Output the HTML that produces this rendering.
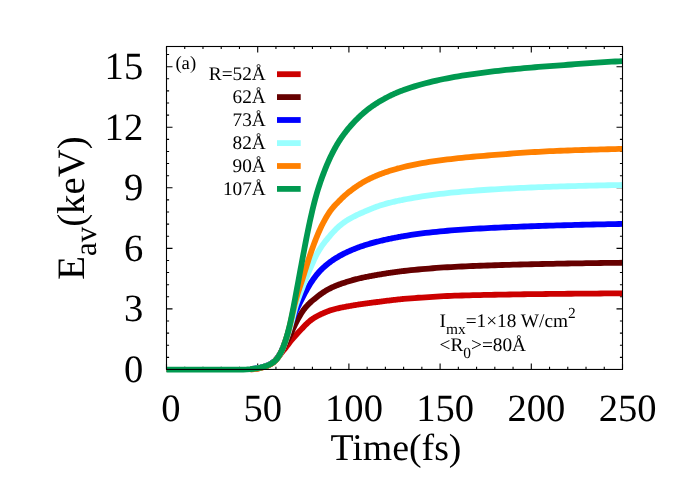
<!DOCTYPE html>
<html><head><meta charset="utf-8"><title>E_av vs Time</title>
<style>
html,body{margin:0;padding:0;background:#ffffff;}
body{width:692px;height:485px;overflow:hidden;position:relative;font-family:"Liberation Serif",serif;}
svg{will-change:transform;}
svg text{text-rendering:geometricPrecision;}
</style></head><body>
<svg width="692" height="485" viewBox="0 0 692 485" style="position:absolute;left:0;top:0">
<rect x="0" y="0" width="692" height="485" fill="#ffffff"/>
<path stroke="#000" stroke-width="1.1" fill="none" d="M166.50,369.45 v-6.00 M166.50,46.50 v6.00 M184.74,369.45 v-2.60 M184.74,46.50 v2.60 M202.98,369.45 v-2.60 M202.98,46.50 v2.60 M221.22,369.45 v-2.60 M221.22,46.50 v2.60 M239.46,369.45 v-2.60 M239.46,46.50 v2.60 M257.70,369.45 v-6.00 M257.70,46.50 v6.00 M275.94,369.45 v-2.60 M275.94,46.50 v2.60 M294.18,369.45 v-2.60 M294.18,46.50 v2.60 M312.42,369.45 v-2.60 M312.42,46.50 v2.60 M330.66,369.45 v-2.60 M330.66,46.50 v2.60 M348.90,369.45 v-6.00 M348.90,46.50 v6.00 M367.14,369.45 v-2.60 M367.14,46.50 v2.60 M385.38,369.45 v-2.60 M385.38,46.50 v2.60 M403.62,369.45 v-2.60 M403.62,46.50 v2.60 M421.86,369.45 v-2.60 M421.86,46.50 v2.60 M440.10,369.45 v-6.00 M440.10,46.50 v6.00 M458.34,369.45 v-2.60 M458.34,46.50 v2.60 M476.58,369.45 v-2.60 M476.58,46.50 v2.60 M494.82,369.45 v-2.60 M494.82,46.50 v2.60 M513.06,369.45 v-2.60 M513.06,46.50 v2.60 M531.30,369.45 v-6.00 M531.30,46.50 v6.00 M549.54,369.45 v-2.60 M549.54,46.50 v2.60 M567.78,369.45 v-2.60 M567.78,46.50 v2.60 M586.02,369.45 v-2.60 M586.02,46.50 v2.60 M604.26,369.45 v-2.60 M604.26,46.50 v2.60 M622.50,369.45 v-6.00 M622.50,46.50 v6.00 M166.50,369.45 h6.00 M622.50,369.45 h-6.00 M166.50,357.34 h2.60 M622.50,357.34 h-2.60 M166.50,345.23 h2.60 M622.50,345.23 h-2.60 M166.50,333.12 h2.60 M622.50,333.12 h-2.60 M166.50,321.01 h2.60 M622.50,321.01 h-2.60 M166.50,308.90 h6.00 M622.50,308.90 h-6.00 M166.50,296.79 h2.60 M622.50,296.79 h-2.60 M166.50,284.68 h2.60 M622.50,284.68 h-2.60 M166.50,272.56 h2.60 M622.50,272.56 h-2.60 M166.50,260.45 h2.60 M622.50,260.45 h-2.60 M166.50,248.34 h6.00 M622.50,248.34 h-6.00 M166.50,236.23 h2.60 M622.50,236.23 h-2.60 M166.50,224.12 h2.60 M622.50,224.12 h-2.60 M166.50,212.01 h2.60 M622.50,212.01 h-2.60 M166.50,199.90 h2.60 M622.50,199.90 h-2.60 M166.50,187.79 h6.00 M622.50,187.79 h-6.00 M166.50,175.68 h2.60 M622.50,175.68 h-2.60 M166.50,163.57 h2.60 M622.50,163.57 h-2.60 M166.50,151.46 h2.60 M622.50,151.46 h-2.60 M166.50,139.35 h2.60 M622.50,139.35 h-2.60 M166.50,127.24 h6.00 M622.50,127.24 h-6.00 M166.50,115.13 h2.60 M622.50,115.13 h-2.60 M166.50,103.02 h2.60 M622.50,103.02 h-2.60 M166.50,90.91 h2.60 M622.50,90.91 h-2.60 M166.50,78.80 h2.60 M622.50,78.80 h-2.60 M166.50,66.68 h6.00 M622.50,66.68 h-6.00 M166.50,54.57 h2.60 M622.50,54.57 h-2.60"/>
<g fill="none" stroke-width="5.8" stroke-linejoin="round" stroke-linecap="butt">
<path stroke="#cc0000" stroke-width="4.2" d="M166.50,369.69 L170.15,369.69 L173.80,369.69 L177.44,369.69 L181.09,369.69 L184.74,369.69 L188.39,369.69 L192.04,369.69 L195.68,369.69 L199.33,369.69 L202.98,369.69 L206.63,369.69 L210.28,369.69 L213.92,369.69 L217.57,369.69 L221.22,369.69 L224.87,369.69 L228.52,369.69 L232.16,369.68 L235.81,369.67 L239.46,369.66 L243.11,369.63 L246.76,369.48 L250.40,369.32"/>
<path stroke="#cc0000" d="M250.40,369.32 L254.05,369.08 L257.70,368.53 L258.61,368.36 L259.52,368.17 L260.44,367.97 L261.35,367.75 L262.26,367.51 L263.17,367.25 L264.08,366.96 L265.00,366.66 L265.91,366.33 L266.82,365.99 L267.73,365.61 L268.64,365.19 L269.56,364.73 L270.47,364.24 L271.38,363.70 L272.29,363.10 L273.20,362.43 L274.12,361.67 L275.03,360.82 L275.94,359.90 L276.85,358.88 L277.76,357.77 L278.68,356.60 L279.59,355.40 L280.50,354.20 L281.41,353.02 L282.32,351.86 L283.24,350.75 L284.15,349.65 L285.06,348.55 L285.97,347.38 L286.88,346.14 L287.80,344.91 L288.71,343.68 L289.62,342.47 L290.53,341.28 L291.44,340.14 L292.36,339.05 L293.27,338.00 L294.18,336.97 L295.09,335.95 L296.00,334.94 L296.92,333.95 L297.83,333.00 L298.74,332.05 L299.65,331.10 L300.56,330.12 L301.48,329.14 L302.39,328.16 L303.30,327.20 L304.21,326.25 L305.12,325.32 L306.04,324.42 L306.95,323.55 L307.86,322.70 L308.77,321.89 L309.68,321.11 L310.60,320.37 L311.51,319.67 L312.42,319.02 L313.33,318.40 L314.24,317.81 L315.16,317.26 L316.07,316.73 L316.98,316.23 L317.89,315.75 L318.80,315.28 L319.72,314.83 L320.63,314.39 L321.54,313.95 L322.45,313.53 L323.36,313.12 L324.28,312.72 L325.19,312.34 L326.10,311.96 L327.01,311.61 L327.92,311.26 L328.84,310.93 L329.75,310.61 L330.66,310.30 L331.57,310.01 L332.48,309.73 L333.40,309.47 L334.31,309.21 L335.22,308.97 L336.13,308.74 L337.04,308.51 L337.96,308.30 L338.87,308.09 L339.78,307.89 L340.69,307.69 L341.60,307.51 L342.52,307.32 L343.43,307.15 L344.34,306.97 L345.25,306.80 L346.16,306.64 L347.08,306.47 L347.99,306.31 L348.90,306.15 L349.81,305.98 L350.72,305.82 L351.64,305.66 L352.55,305.50 L353.46,305.34 L354.37,305.18 L355.28,305.03 L356.20,304.89 L357.11,304.74 L358.02,304.60 L358.93,304.46 L359.84,304.33 L360.76,304.19 L361.67,304.06 L362.58,303.93 L363.49,303.81 L364.40,303.68 L365.32,303.56 L366.23,303.44 L367.14,303.32 L368.05,303.20 L368.96,303.09 L369.88,302.97 L370.79,302.85 L371.70,302.73 L372.61,302.61 L373.52,302.49 L374.44,302.37 L375.35,302.25 L376.26,302.12 L377.17,302.00 L378.08,301.88 L379.00,301.76 L379.91,301.64 L380.82,301.52 L381.73,301.40 L382.64,301.29 L383.56,301.17 L384.47,301.06 L385.38,300.95 L386.29,300.84 L387.20,300.73 L388.12,300.63 L389.03,300.52 L389.94,300.41 L390.85,300.31 L391.76,300.20 L392.68,300.09 L393.59,299.99 L394.50,299.88 L395.41,299.78 L396.32,299.67 L397.24,299.57 L398.15,299.47 L399.06,299.37 L399.97,299.28 L400.88,299.18 L401.80,299.09 L402.71,299.01 L403.62,298.92 L407.27,298.60 L410.92,298.30 L414.56,298.03 L418.21,297.76 L421.86,297.52 L425.51,297.27 L429.16,297.04 L432.80,296.81 L436.45,296.58 L440.10,296.37 L443.75,296.18 L447.40,295.99 L451.04,295.83 L454.69,295.69 L458.34,295.58 L461.99,295.48 L465.64,295.38 L469.28,295.29 L472.93,295.20 L476.58,295.11 L480.23,295.03 L483.88,294.96 L487.52,294.88 L491.17,294.81 L494.82,294.74 L498.47,294.67 L502.12,294.61 L505.76,294.55 L509.41,294.49 L513.06,294.43 L516.71,294.38 L520.36,294.33 L524.00,294.27 L527.65,294.22 L531.30,294.18 L534.95,294.13 L538.60,294.09 L542.24,294.04 L545.89,294.00 L549.54,293.96 L553.19,293.92 L556.84,293.88 L560.48,293.84 L564.13,293.81 L567.78,293.77 L571.43,293.74 L575.08,293.71 L578.72,293.67 L582.37,293.64 L586.02,293.61 L589.67,293.58 L593.32,293.55 L596.96,293.53 L600.61,293.50 L604.26,293.47 L607.91,293.45 L611.56,293.42 L615.20,293.40 L618.85,293.37 L622.50,293.35"/>
<path stroke="#660000" stroke-width="4.2" d="M166.50,369.69 L170.15,369.69 L173.80,369.69 L177.44,369.69 L181.09,369.69 L184.74,369.69 L188.39,369.69 L192.04,369.69 L195.68,369.69 L199.33,369.69 L202.98,369.69 L206.63,369.69 L210.28,369.69 L213.92,369.69 L217.57,369.69 L221.22,369.69 L224.87,369.69 L228.52,369.69 L232.16,369.68 L235.81,369.67 L239.46,369.66 L243.11,369.63 L246.76,369.46 L250.40,369.15"/>
<path stroke="#660000" d="M250.40,369.15 L254.05,368.75 L257.70,368.19 L258.61,368.02 L259.52,367.83 L260.44,367.63 L261.35,367.40 L262.26,367.16 L263.17,366.91 L264.08,366.63 L265.00,366.35 L265.91,366.04 L266.82,365.72 L267.73,365.36 L268.64,364.96 L269.56,364.52 L270.47,364.05 L271.38,363.53 L272.29,362.97 L273.20,362.34 L274.12,361.63 L275.03,360.82 L275.94,359.90 L276.85,358.86 L277.76,357.66 L278.68,356.35 L279.59,354.92 L280.50,353.41 L281.41,351.81 L282.32,350.13 L283.24,348.41 L284.15,346.65 L285.06,344.89 L285.97,343.12 L286.88,341.36 L287.80,339.60 L288.71,337.83 L289.62,336.02 L290.53,334.13 L291.44,332.18 L292.36,330.23 L293.27,328.31 L294.18,326.41 L295.09,324.55 L296.00,322.73 L296.92,320.96 L297.83,319.24 L298.74,317.57 L299.65,315.98 L300.56,314.45 L301.48,313.00 L302.39,311.63 L303.30,310.35 L304.21,309.13 L305.12,307.98 L306.04,306.90 L306.95,305.87 L307.86,304.90 L308.77,303.98 L309.68,303.10 L310.60,302.26 L311.51,301.45 L312.42,300.67 L313.33,299.90 L314.24,299.16 L315.16,298.42 L316.07,297.70 L316.98,296.96 L317.89,296.23 L318.80,295.52 L319.72,294.83 L320.63,294.17 L321.54,293.52 L322.45,292.89 L323.36,292.29 L324.28,291.70 L325.19,291.13 L326.10,290.58 L327.01,290.05 L327.92,289.53 L328.84,289.04 L329.75,288.56 L330.66,288.09 L331.57,287.64 L332.48,287.21 L333.40,286.80 L334.31,286.40 L335.22,286.01 L336.13,285.63 L337.04,285.27 L337.96,284.92 L338.87,284.57 L339.78,284.24 L340.69,283.91 L341.60,283.60 L342.52,283.28 L343.43,282.98 L344.34,282.68 L345.25,282.38 L346.16,282.09 L347.08,281.81 L347.99,281.52 L348.90,281.24 L349.81,280.96 L350.72,280.69 L351.64,280.42 L352.55,280.16 L353.46,279.91 L354.37,279.66 L355.28,279.42 L356.20,279.18 L357.11,278.95 L358.02,278.73 L358.93,278.51 L359.84,278.29 L360.76,278.08 L361.67,277.87 L362.58,277.67 L363.49,277.47 L364.40,277.28 L365.32,277.09 L366.23,276.90 L367.14,276.72 L368.05,276.54 L368.96,276.37 L369.88,276.20 L370.79,276.03 L371.70,275.86 L372.61,275.70 L373.52,275.53 L374.44,275.37 L375.35,275.21 L376.26,275.05 L377.17,274.89 L378.08,274.73 L379.00,274.58 L379.91,274.42 L380.82,274.27 L381.73,274.12 L382.64,273.97 L383.56,273.82 L384.47,273.67 L385.38,273.52 L386.29,273.38 L387.20,273.24 L388.12,273.09 L389.03,272.95 L389.94,272.82 L390.85,272.68 L391.76,272.55 L392.68,272.41 L393.59,272.28 L394.50,272.16 L395.41,272.03 L396.32,271.91 L397.24,271.78 L398.15,271.66 L399.06,271.55 L399.97,271.43 L400.88,271.32 L401.80,271.21 L402.71,271.10 L403.62,271.00 L407.27,270.59 L410.92,270.21 L414.56,269.84 L418.21,269.49 L421.86,269.15 L425.51,268.83 L429.16,268.53 L432.80,268.24 L436.45,267.97 L440.10,267.71 L443.75,267.47 L447.40,267.24 L451.04,267.03 L454.69,266.83 L458.34,266.65 L461.99,266.49 L465.64,266.32 L469.28,266.17 L472.93,266.02 L476.58,265.88 L480.23,265.74 L483.88,265.61 L487.52,265.48 L491.17,265.36 L494.82,265.24 L498.47,265.13 L502.12,265.01 L505.76,264.91 L509.41,264.80 L513.06,264.70 L516.71,264.61 L520.36,264.51 L524.00,264.42 L527.65,264.34 L531.30,264.25 L534.95,264.17 L538.60,264.09 L542.24,264.01 L545.89,263.93 L549.54,263.86 L553.19,263.79 L556.84,263.72 L560.48,263.65 L564.13,263.59 L567.78,263.52 L571.43,263.46 L575.08,263.40 L578.72,263.34 L582.37,263.28 L586.02,263.22 L589.67,263.17 L593.32,263.12 L596.96,263.06 L600.61,263.01 L604.26,262.96 L607.91,262.91 L611.56,262.87 L615.20,262.82 L618.85,262.78 L622.50,262.73"/>
<path stroke="#0000ff" stroke-width="4.2" d="M166.50,369.69 L170.15,369.69 L173.80,369.69 L177.44,369.69 L181.09,369.69 L184.74,369.69 L188.39,369.69 L192.04,369.69 L195.68,369.69 L199.33,369.69 L202.98,369.69 L206.63,369.69 L210.28,369.69 L213.92,369.69 L217.57,369.69 L221.22,369.69 L224.87,369.69 L228.52,369.68 L232.16,369.68 L235.81,369.67 L239.46,369.66 L243.11,369.63 L246.76,369.43 L250.40,369.12"/>
<path stroke="#0000ff" d="M250.40,369.12 L254.05,368.70 L257.70,368.13 L258.61,367.95 L259.52,367.75 L260.44,367.54 L261.35,367.31 L262.26,367.06 L263.17,366.79 L264.08,366.52 L265.00,366.22 L265.91,365.91 L266.82,365.57 L267.73,365.19 L268.64,364.77 L269.56,364.32 L270.47,363.83 L271.38,363.30 L272.29,362.74 L273.20,362.12 L274.12,361.42 L275.03,360.62 L275.94,359.73 L276.85,358.67 L277.76,357.45 L278.68,356.08 L279.59,354.55 L280.50,352.87 L281.41,351.01 L282.32,348.98 L283.24,346.80 L284.15,344.48 L285.06,342.03 L285.97,339.48 L286.88,336.82 L287.80,333.95 L288.71,330.85 L289.62,327.77 L290.53,325.01 L291.44,322.52 L292.36,320.07 L293.27,317.62 L294.18,315.14 L295.09,312.82 L296.00,310.80 L296.92,308.93 L297.83,307.04 L298.74,305.13 L299.65,303.29 L300.56,301.47 L301.48,299.65 L302.39,297.84 L303.30,296.08 L304.21,294.37 L305.12,292.70 L306.04,291.04 L306.95,289.41 L307.86,287.80 L308.77,286.25 L309.68,284.74 L310.60,283.29 L311.51,281.88 L312.42,280.53 L313.33,279.21 L314.24,277.95 L315.16,276.73 L316.07,275.55 L316.98,274.41 L317.89,273.32 L318.80,272.27 L319.72,271.26 L320.63,270.29 L321.54,269.37 L322.45,268.47 L323.36,267.62 L324.28,266.79 L325.19,265.99 L326.10,265.22 L327.01,264.47 L327.92,263.75 L328.84,263.04 L329.75,262.35 L330.66,261.67 L331.57,261.01 L332.48,260.37 L333.40,259.74 L334.31,259.14 L335.22,258.55 L336.13,257.98 L337.04,257.42 L337.96,256.88 L338.87,256.36 L339.78,255.84 L340.69,255.34 L341.60,254.85 L342.52,254.37 L343.43,253.90 L344.34,253.45 L345.25,253.00 L346.16,252.56 L347.08,252.13 L347.99,251.70 L348.90,251.29 L349.81,250.88 L350.72,250.48 L351.64,250.09 L352.55,249.70 L353.46,249.33 L354.37,248.96 L355.28,248.59 L356.20,248.24 L357.11,247.89 L358.02,247.55 L358.93,247.22 L359.84,246.89 L360.76,246.56 L361.67,246.25 L362.58,245.94 L363.49,245.63 L364.40,245.33 L365.32,245.04 L366.23,244.75 L367.14,244.47 L368.05,244.20 L368.96,243.92 L369.88,243.66 L370.79,243.40 L371.70,243.14 L372.61,242.89 L373.52,242.64 L374.44,242.39 L375.35,242.15 L376.26,241.91 L377.17,241.68 L378.08,241.45 L379.00,241.22 L379.91,241.00 L380.82,240.78 L381.73,240.56 L382.64,240.35 L383.56,240.14 L384.47,239.93 L385.38,239.73 L386.29,239.52 L387.20,239.33 L388.12,239.13 L389.03,238.94 L389.94,238.75 L390.85,238.56 L391.76,238.37 L392.68,238.19 L393.59,238.01 L394.50,237.83 L395.41,237.66 L396.32,237.48 L397.24,237.31 L398.15,237.14 L399.06,236.97 L399.97,236.80 L400.88,236.64 L401.80,236.47 L402.71,236.31 L403.62,236.15 L407.27,235.52 L410.92,234.93 L414.56,234.37 L418.21,233.85 L421.86,233.38 L425.51,232.95 L429.16,232.53 L432.80,232.14 L436.45,231.76 L440.10,231.41 L443.75,231.07 L447.40,230.75 L451.04,230.45 L454.69,230.16 L458.34,229.89 L461.99,229.64 L465.64,229.40 L469.28,229.16 L472.93,228.93 L476.58,228.72 L480.23,228.51 L483.88,228.31 L487.52,228.11 L491.17,227.93 L494.82,227.75 L498.47,227.57 L502.12,227.40 L505.76,227.24 L509.41,227.08 L513.06,226.93 L516.71,226.79 L520.36,226.64 L524.00,226.50 L527.65,226.37 L531.30,226.24 L534.95,226.12 L538.60,225.99 L542.24,225.87 L545.89,225.76 L549.54,225.65 L553.19,225.54 L556.84,225.43 L560.48,225.33 L564.13,225.23 L567.78,225.13 L571.43,225.04 L575.08,224.95 L578.72,224.86 L582.37,224.77 L586.02,224.68 L589.67,224.60 L593.32,224.52 L596.96,224.44 L600.61,224.36 L604.26,224.29 L607.91,224.21 L611.56,224.14 L615.20,224.07 L618.85,224.00 L622.50,223.93"/>
<path stroke="#99ffff" stroke-width="4.2" d="M166.50,369.69 L170.15,369.69 L173.80,369.69 L177.44,369.69 L181.09,369.69 L184.74,369.69 L188.39,369.69 L192.04,369.69 L195.68,369.69 L199.33,369.69 L202.98,369.69 L206.63,369.69 L210.28,369.69 L213.92,369.69 L217.57,369.69 L221.22,369.69 L224.87,369.69 L228.52,369.69 L232.16,369.68 L235.81,369.67 L239.46,369.66 L243.11,369.63 L246.76,369.46 L250.40,369.15"/>
<path stroke="#99ffff" d="M250.40,369.15 L254.05,368.75 L257.70,368.19 L258.61,368.02 L259.52,367.83 L260.44,367.63 L261.35,367.40 L262.26,367.16 L263.17,366.91 L264.08,366.63 L265.00,366.35 L265.91,366.04 L266.82,365.72 L267.73,365.36 L268.64,364.96 L269.56,364.52 L270.47,364.05 L271.38,363.54 L272.29,363.00 L273.20,362.42 L274.12,361.75 L275.03,361.00 L275.94,360.14 L276.85,359.13 L277.76,357.95 L278.68,356.60 L279.59,355.09 L280.50,353.43 L281.41,351.61 L282.32,349.61 L283.24,347.45 L284.15,345.16 L285.06,342.75 L285.97,340.24 L286.88,337.63 L287.80,334.95 L288.71,332.23 L289.62,329.33 L290.53,326.15 L291.44,322.82 L292.36,319.46 L293.27,315.89 L294.18,312.06 L295.09,308.37 L296.00,305.21 L296.92,302.52 L297.83,299.96 L298.74,297.47 L299.65,295.00 L300.56,292.55 L301.48,290.17 L302.39,287.84 L303.30,285.53 L304.21,283.23 L305.12,280.92 L306.04,278.61 L306.95,276.33 L307.86,274.08 L308.77,271.87 L309.68,269.69 L310.60,267.57 L311.51,265.49 L312.42,263.46 L313.33,261.44 L314.24,259.41 L315.16,257.43 L316.07,255.54 L316.98,253.80 L317.89,252.20 L318.80,250.68 L319.72,249.24 L320.63,247.85 L321.54,246.49 L322.45,245.18 L323.36,243.92 L324.28,242.71 L325.19,241.54 L326.10,240.41 L327.01,239.30 L327.92,238.21 L328.84,237.13 L329.75,236.05 L330.66,234.98 L331.57,233.93 L332.48,232.91 L333.40,231.90 L334.31,230.93 L335.22,229.98 L336.13,229.05 L337.04,228.16 L337.96,227.30 L338.87,226.47 L339.78,225.68 L340.69,224.93 L341.60,224.21 L342.52,223.51 L343.43,222.85 L344.34,222.20 L345.25,221.57 L346.16,220.96 L347.08,220.37 L347.99,219.80 L348.90,219.25 L349.81,218.73 L350.72,218.22 L351.64,217.73 L352.55,217.25 L353.46,216.78 L354.37,216.32 L355.28,215.86 L356.20,215.40 L357.11,214.95 L358.02,214.51 L358.93,214.09 L359.84,213.67 L360.76,213.26 L361.67,212.85 L362.58,212.46 L363.49,212.06 L364.40,211.67 L365.32,211.28 L366.23,210.88 L367.14,210.49 L368.05,210.10 L368.96,209.71 L369.88,209.33 L370.79,208.96 L371.70,208.59 L372.61,208.23 L373.52,207.87 L374.44,207.52 L375.35,207.18 L376.26,206.84 L377.17,206.52 L378.08,206.20 L379.00,205.88 L379.91,205.58 L380.82,205.28 L381.73,204.99 L382.64,204.70 L383.56,204.43 L384.47,204.16 L385.38,203.90 L386.29,203.65 L387.20,203.40 L388.12,203.16 L389.03,202.92 L389.94,202.69 L390.85,202.46 L391.76,202.24 L392.68,202.02 L393.59,201.81 L394.50,201.60 L395.41,201.39 L396.32,201.18 L397.24,200.98 L398.15,200.78 L399.06,200.59 L399.97,200.40 L400.88,200.22 L401.80,200.04 L402.71,199.86 L403.62,199.69 L407.27,199.02 L410.92,198.37 L414.56,197.72 L418.21,197.08 L421.86,196.48 L425.51,195.92 L429.16,195.38 L432.80,194.88 L436.45,194.40 L440.10,193.95 L443.75,193.53 L447.40,193.12 L451.04,192.73 L454.69,192.37 L458.34,192.02 L461.99,191.69 L465.64,191.37 L469.28,191.07 L472.93,190.78 L476.58,190.50 L480.23,190.24 L483.88,189.99 L487.52,189.75 L491.17,189.51 L494.82,189.29 L498.47,189.08 L502.12,188.88 L505.76,188.68 L509.41,188.49 L513.06,188.31 L516.71,188.14 L520.36,187.97 L524.00,187.81 L527.65,187.65 L531.30,187.50 L534.95,187.35 L538.60,187.21 L542.24,187.08 L545.89,186.95 L549.54,186.82 L553.19,186.70 L556.84,186.58 L560.48,186.47 L564.13,186.36 L567.78,186.25 L571.43,186.15 L575.08,186.05 L578.72,185.95 L582.37,185.86 L586.02,185.76 L589.67,185.67 L593.32,185.59 L596.96,185.50 L600.61,185.42 L604.26,185.34 L607.91,185.27 L611.56,185.19 L615.20,185.12 L618.85,185.05 L622.50,184.98"/>
<path stroke="#ff8000" stroke-width="4.2" d="M166.50,369.69 L170.15,369.69 L173.80,369.69 L177.44,369.69 L181.09,369.69 L184.74,369.69 L188.39,369.69 L192.04,369.69 L195.68,369.69 L199.33,369.69 L202.98,369.69 L206.63,369.69 L210.28,369.69 L213.92,369.69 L217.57,369.69 L221.22,369.69 L224.87,369.69 L228.52,369.69 L232.16,369.68 L235.81,369.67 L239.46,369.66 L243.11,369.63 L246.76,369.48 L250.40,369.32"/>
<path stroke="#ff8000" d="M250.40,369.32 L254.05,369.08 L257.70,368.53 L258.61,368.37 L259.52,368.18 L260.44,367.98 L261.35,367.76 L262.26,367.52 L263.17,367.25 L264.08,366.97 L265.00,366.67 L265.91,366.35 L266.82,366.00 L267.73,365.62 L268.64,365.21 L269.56,364.75 L270.47,364.26 L271.38,363.73 L272.29,363.15 L273.20,362.52 L274.12,361.81 L275.03,361.01 L275.94,360.11 L276.85,359.07 L277.76,357.86 L278.68,356.48 L279.59,354.93 L280.50,353.22 L281.41,351.34 L282.32,349.27 L283.24,347.02 L284.15,344.61 L285.06,342.04 L285.97,339.32 L286.88,336.45 L287.80,333.34 L288.71,329.93 L289.62,326.25 L290.53,322.36 L291.44,318.35 L292.36,314.29 L293.27,310.27 L294.18,306.39 L295.09,302.71 L296.00,299.33 L296.92,296.18 L297.83,293.19 L298.74,290.34 L299.65,287.58 L300.56,284.86 L301.48,282.12 L302.39,279.32 L303.30,276.40 L304.21,273.41 L305.12,270.45 L306.04,267.52 L306.95,264.62 L307.86,261.75 L308.77,258.93 L309.68,256.16 L310.60,253.45 L311.51,250.80 L312.42,248.22 L313.33,245.70 L314.24,243.25 L315.16,240.86 L316.07,238.55 L316.98,236.30 L317.89,234.12 L318.80,232.01 L319.72,229.98 L320.63,228.01 L321.54,226.11 L322.45,224.27 L323.36,222.50 L324.28,220.78 L325.19,219.12 L326.10,217.52 L327.01,215.97 L327.92,214.49 L328.84,213.07 L329.75,211.71 L330.66,210.42 L331.57,209.22 L332.48,208.09 L333.40,207.02 L334.31,206.01 L335.22,205.03 L336.13,204.09 L337.04,203.16 L337.96,202.24 L338.87,201.32 L339.78,200.38 L340.69,199.45 L341.60,198.55 L342.52,197.67 L343.43,196.81 L344.34,195.98 L345.25,195.17 L346.16,194.38 L347.08,193.60 L347.99,192.85 L348.90,192.11 L349.81,191.38 L350.72,190.67 L351.64,189.97 L352.55,189.28 L353.46,188.60 L354.37,187.93 L355.28,187.29 L356.20,186.65 L357.11,186.03 L358.02,185.42 L358.93,184.82 L359.84,184.24 L360.76,183.67 L361.67,183.11 L362.58,182.57 L363.49,182.04 L364.40,181.52 L365.32,181.02 L366.23,180.52 L367.14,180.04 L368.05,179.57 L368.96,179.11 L369.88,178.67 L370.79,178.23 L371.70,177.80 L372.61,177.38 L373.52,176.97 L374.44,176.56 L375.35,176.17 L376.26,175.78 L377.17,175.40 L378.08,175.03 L379.00,174.67 L379.91,174.31 L380.82,173.96 L381.73,173.62 L382.64,173.28 L383.56,172.95 L384.47,172.63 L385.38,172.31 L386.29,172.00 L387.20,171.69 L388.12,171.39 L389.03,171.10 L389.94,170.81 L390.85,170.53 L391.76,170.25 L392.68,169.97 L393.59,169.70 L394.50,169.44 L395.41,169.18 L396.32,168.92 L397.24,168.67 L398.15,168.42 L399.06,168.18 L399.97,167.94 L400.88,167.70 L401.80,167.47 L402.71,167.24 L403.62,167.02 L407.27,166.16 L410.92,165.35 L414.56,164.59 L418.21,163.88 L421.86,163.21 L425.51,162.58 L429.16,161.98 L432.80,161.42 L436.45,160.89 L440.10,160.38 L443.75,159.90 L447.40,159.44 L451.04,159.01 L454.69,158.59 L458.34,158.19 L461.99,157.81 L465.64,157.45 L469.28,157.10 L472.93,156.76 L476.58,156.44 L480.23,156.12 L483.88,155.80 L487.52,155.50 L491.17,155.19 L494.82,154.89 L498.47,154.60 L502.12,154.31 L505.76,154.02 L509.41,153.74 L513.06,153.47 L516.71,153.21 L520.36,152.95 L524.00,152.70 L527.65,152.46 L531.30,152.22 L534.95,152.00 L538.60,151.79 L542.24,151.58 L545.89,151.39 L549.54,151.21 L553.19,151.04 L556.84,150.89 L560.48,150.75 L564.13,150.61 L567.78,150.48 L571.43,150.35 L575.08,150.22 L578.72,150.10 L582.37,149.98 L586.02,149.86 L589.67,149.75 L593.32,149.64 L596.96,149.53 L600.61,149.43 L604.26,149.33 L607.91,149.23 L611.56,149.13 L615.20,149.04 L618.85,148.95 L622.50,148.86"/>
<path stroke="#009950" d="M166.50,369.69 L170.15,369.69 L173.80,369.69 L177.44,369.69 L181.09,369.69 L184.74,369.69 L188.39,369.69 L192.04,369.69 L195.68,369.69 L199.33,369.69 L202.98,369.69 L206.63,369.69 L210.28,369.69 L213.92,369.69 L217.57,369.69 L221.22,369.69 L224.87,369.69 L228.52,369.69 L232.16,369.68 L235.81,369.67 L239.46,369.66 L243.11,369.63 L246.76,369.46 L250.40,369.15 L254.05,368.75 L257.70,368.19 L258.61,368.02 L259.52,367.83 L260.44,367.63 L261.35,367.40 L262.26,367.16 L263.17,366.91 L264.08,366.63 L265.00,366.35 L265.91,366.04 L266.82,365.72 L267.73,365.36 L268.64,364.96 L269.56,364.52 L270.47,364.05 L271.38,363.53 L272.29,362.97 L273.20,362.35 L274.12,361.65 L275.03,360.86 L275.94,359.97 L276.85,358.93 L277.76,357.73 L278.68,356.36 L279.59,354.84 L280.50,353.17 L281.41,351.32 L282.32,349.27 L283.24,347.03 L284.15,344.60 L285.06,341.99 L285.97,339.18 L286.88,336.13 L287.80,332.85 L288.71,329.32 L289.62,325.56 L290.53,321.56 L291.44,317.35 L292.36,312.93 L293.27,308.33 L294.18,303.55 L295.09,298.68 L296.00,293.78 L296.92,288.86 L297.83,283.92 L298.74,278.98 L299.65,274.04 L300.56,269.12 L301.48,264.22 L302.39,259.35 L303.30,254.50 L304.21,249.67 L305.12,244.87 L306.04,240.13 L306.95,235.48 L307.86,230.96 L308.77,226.55 L309.68,222.26 L310.60,218.11 L311.51,214.08 L312.42,210.19 L313.33,206.44 L314.24,202.82 L315.16,199.34 L316.07,195.99 L316.98,192.79 L317.89,189.74 L318.80,186.83 L319.72,184.05 L320.63,181.37 L321.54,178.79 L322.45,176.30 L323.36,173.87 L324.28,171.49 L325.19,169.15 L326.10,166.87 L327.01,164.66 L327.92,162.52 L328.84,160.46 L329.75,158.46 L330.66,156.53 L331.57,154.66 L332.48,152.84 L333.40,151.08 L334.31,149.38 L335.22,147.73 L336.13,146.13 L337.04,144.57 L337.96,143.06 L338.87,141.59 L339.78,140.17 L340.69,138.78 L341.60,137.43 L342.52,136.12 L343.43,134.85 L344.34,133.60 L345.25,132.39 L346.16,131.22 L347.08,130.07 L347.99,128.95 L348.90,127.86 L349.81,126.79 L350.72,125.74 L351.64,124.72 L352.55,123.71 L353.46,122.72 L354.37,121.76 L355.28,120.81 L356.20,119.88 L357.11,118.97 L358.02,118.07 L358.93,117.20 L359.84,116.34 L360.76,115.49 L361.67,114.66 L362.58,113.85 L363.49,113.06 L364.40,112.28 L365.32,111.51 L366.23,110.77 L367.14,110.03 L368.05,109.32 L368.96,108.61 L369.88,107.93 L370.79,107.25 L371.70,106.60 L372.61,105.96 L373.52,105.33 L374.44,104.72 L375.35,104.12 L376.26,103.53 L377.17,102.95 L378.08,102.38 L379.00,101.82 L379.91,101.27 L380.82,100.73 L381.73,100.20 L382.64,99.68 L383.56,99.17 L384.47,98.66 L385.38,98.17 L386.29,97.68 L387.20,97.21 L388.12,96.74 L389.03,96.28 L389.94,95.83 L390.85,95.39 L391.76,94.95 L392.68,94.53 L393.59,94.11 L394.50,93.70 L395.41,93.30 L396.32,92.91 L397.24,92.52 L398.15,92.15 L399.06,91.78 L399.97,91.42 L400.88,91.07 L401.80,90.72 L402.71,90.38 L403.62,90.04 L407.27,88.74 L410.92,87.52 L414.56,86.37 L418.21,85.27 L421.86,84.24 L425.51,83.26 L429.16,82.32 L432.80,81.44 L436.45,80.59 L440.10,79.79 L443.75,79.03 L447.40,78.30 L451.04,77.60 L454.69,76.94 L458.34,76.31 L461.99,75.70 L465.64,75.12 L469.28,74.57 L472.93,74.03 L476.58,73.52 L480.23,73.02 L483.88,72.55 L487.52,72.09 L491.17,71.64 L494.82,71.21 L498.47,70.79 L502.12,70.38 L505.76,69.99 L509.41,69.61 L513.06,69.24 L516.71,68.88 L520.36,68.54 L524.00,68.20 L527.65,67.87 L531.30,67.55 L534.95,67.25 L538.60,66.94 L542.24,66.65 L545.89,66.37 L549.54,66.09 L553.19,65.82 L556.84,65.55 L560.48,65.29 L564.13,65.03 L567.78,64.76 L571.43,64.49 L575.08,64.22 L578.72,63.94 L582.37,63.67 L586.02,63.40 L589.67,63.13 L593.32,62.87 L596.96,62.62 L600.61,62.37 L604.26,62.13 L607.91,61.90 L611.56,61.69 L615.20,61.49 L618.85,61.30 L622.50,61.13"/>
</g>
<g stroke-width="5.8" fill="none">
<line x1="277.0" x2="300.7" y1="74.2" y2="74.2" stroke="#cc0000"/>
<line x1="277.0" x2="300.7" y1="97.1" y2="97.1" stroke="#660000"/>
<line x1="277.0" x2="300.7" y1="120.0" y2="120.0" stroke="#0000ff"/>
<line x1="277.0" x2="300.7" y1="143.1" y2="143.1" stroke="#99ffff"/>
<line x1="277.0" x2="300.7" y1="166.0" y2="166.0" stroke="#ff8000"/>
<line x1="277.0" x2="300.7" y1="188.9" y2="188.9" stroke="#009950"/>
</g>
<rect x="166.50" y="46.50" width="456.00" height="322.95" stroke="#000" stroke-width="1.1" fill="none"/>
<g font-family="'Liberation Serif', serif" fill="#000">
<g font-size="38.6" text-anchor="end">
<text x="143.2" y="381.9">0</text>
<text x="143.2" y="321.4">3</text>
<text x="143.2" y="260.8">6</text>
<text x="143.2" y="200.3">9</text>
<text x="143.2" y="139.7">12</text>
<text x="143.2" y="79.2">15</text>
</g>
<g font-size="38.6" text-anchor="middle">
<text x="170.8" y="420.8">0</text>
<text x="262.8" y="420.8">50</text>
<text x="354.0" y="420.8">100</text>
<text x="445.2" y="420.8">150</text>
<text x="536.4" y="420.8">200</text>
<text x="627.6" y="420.8">250</text>
<text x="396" y="460.2" font-size="37.8">Time(fs)</text>
</g>
<text font-size="38.8" transform="translate(83.8,279.8) rotate(-90)">E<tspan font-size="31" dy="12">av</tspan><tspan dy="-12">(keV)</tspan></text>
<g font-size="19.3">
<text x="175.4" y="69" font-size="18.7">(a)</text>
<text x="265.8" y="80.3" text-anchor="end">R=52Å</text>
<text x="265.8" y="103.2" text-anchor="end">62Å</text>
<text x="265.8" y="126.1" text-anchor="end">73Å</text>
<text x="265.8" y="149.2" text-anchor="end">82Å</text>
<text x="265.8" y="172.1" text-anchor="end">90Å</text>
<text x="265.8" y="195.0" text-anchor="end">107Å</text>
<text x="439.6" y="327.0">I<tspan font-size="15.4" dy="6.8">mx</tspan><tspan dy="-6.8">=1×18 W/cm</tspan><tspan font-size="15.4" dy="-9.0">2</tspan></text>
<text x="439.6" y="351.3">&lt;R<tspan font-size="15.4" dy="6.6">0</tspan><tspan dy="-6.6">&gt;=80Å</tspan></text>
</g>
</g>
</svg>
</body></html>
